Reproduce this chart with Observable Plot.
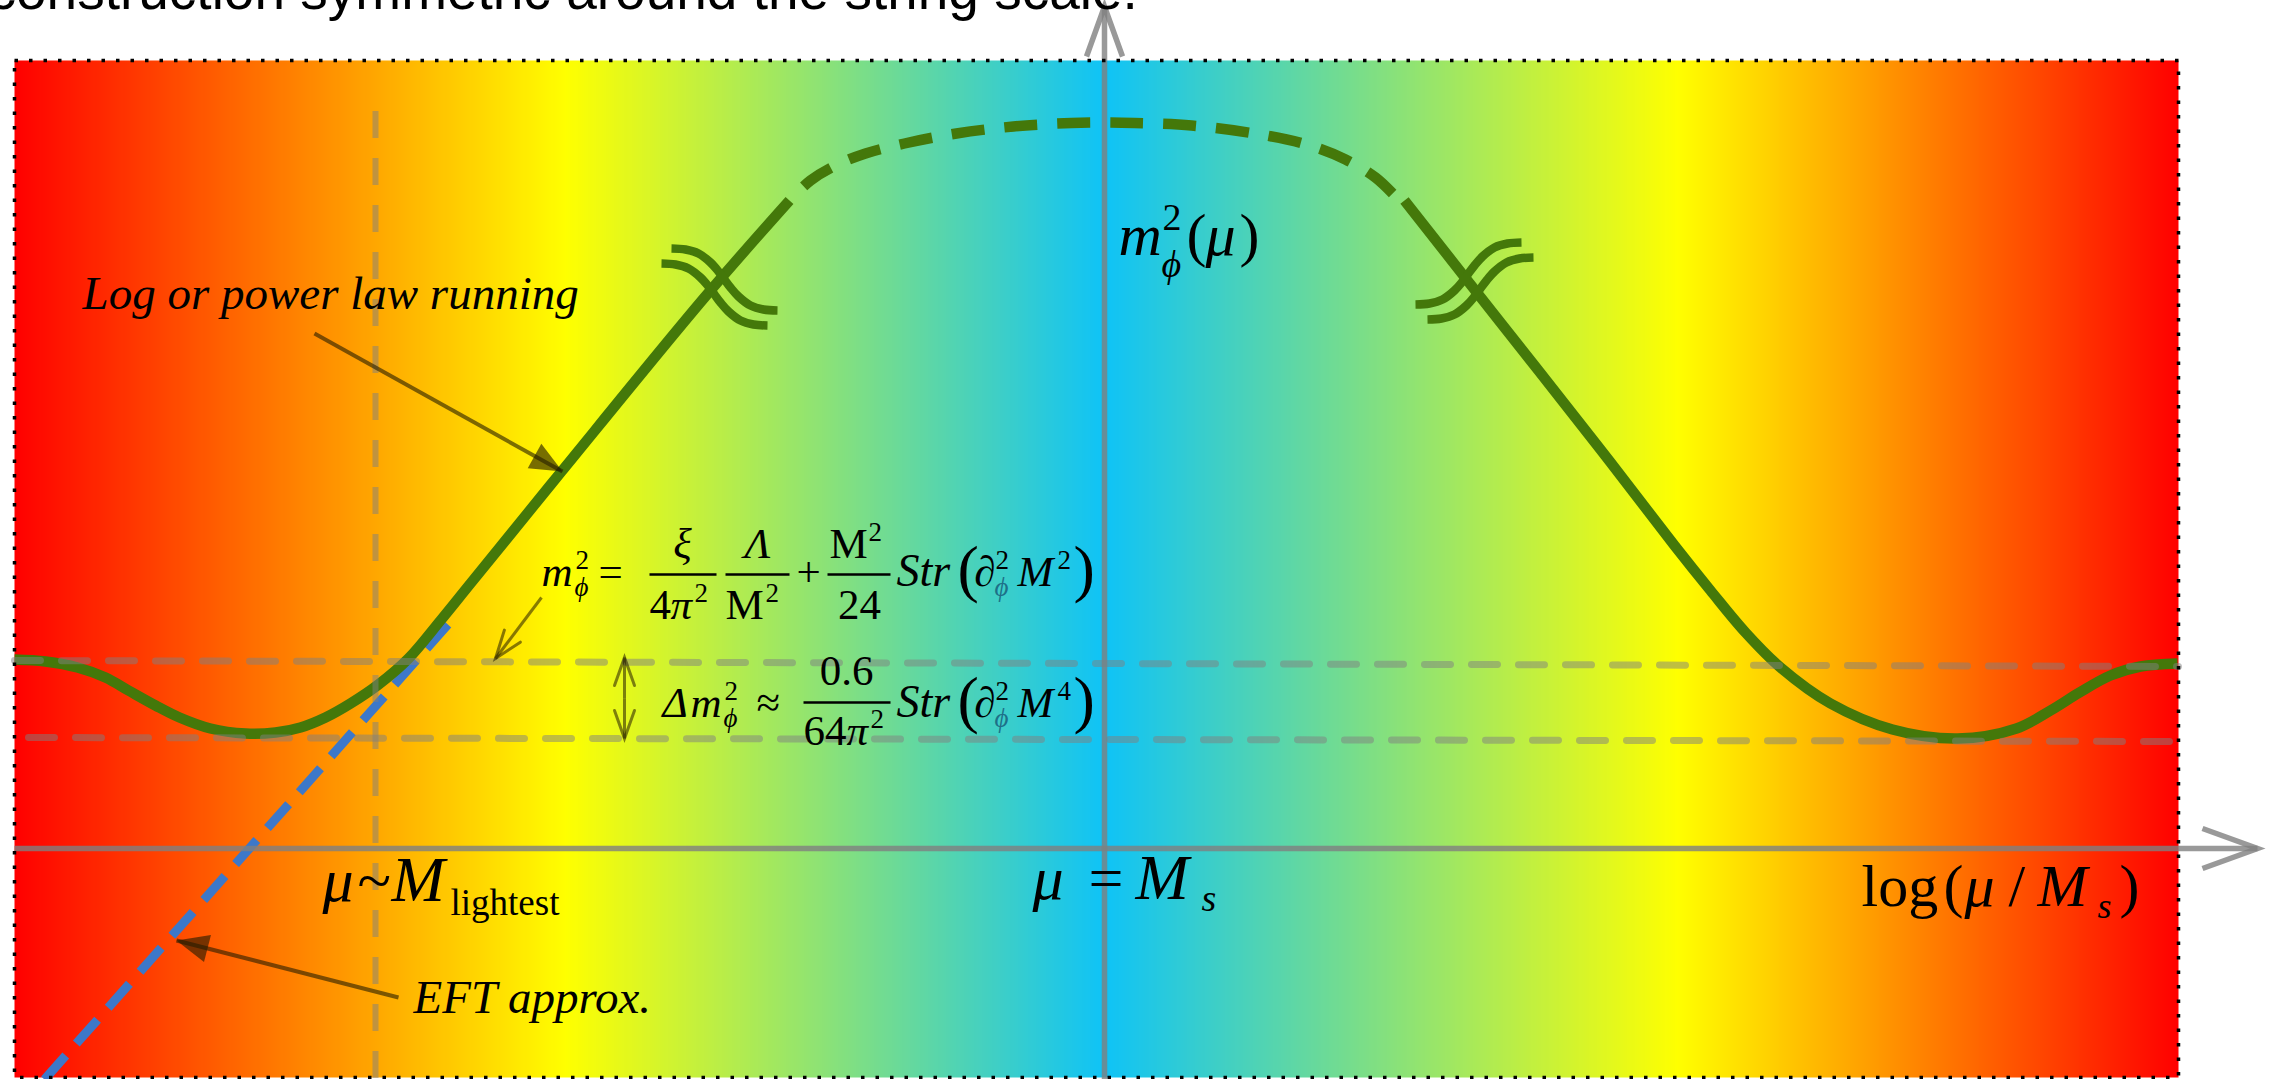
<!DOCTYPE html>
<html>
<head>
<meta charset="utf-8">
<script src="https://cdn.jsdelivr.net/npm/d3@7"></script>
<script src="https://cdn.jsdelivr.net/npm/@observablehq/plot@0.6"></script>
<style>
  html, body { margin: 0; padding: 0; background: #fff; overflow: hidden; }
</style>
</head>
<body>
<div id="chart"></div>
<script>
// ---------------------------------------------------------------------------
// Scalar mass running m_ϕ²(μ) against log(μ/M_s): symmetric about the string scale
// ---------------------------------------------------------------------------

// Horizontal colour ramp across log(μ/M_s)
const rampStops  = [-10.9, -5.39, 0, 5.74, 10.74];
const rampColors = ["#ff0000", "#ffff00", "#0fc3f7", "#ffff00", "#ff0000"];

// Low-energy branch (solid): plateau, dip at μ ~ M_lightest, then log/power-law rise
const lowX = [-10.90, -10.59, -10.27, -9.99, -9.76, -9.49, -9.25, -8.94, -8.59, -8.29, -8.04, -7.79, -7.54, -7.26, -6.96, -6.64, -6.34, -5.43, -4.00, -3.15];
const lowY = [  1.89,   1.87,   1.81,  1.71,  1.58,  1.43,  1.31,  1.20,  1.15,  1.16,  1.21,  1.31,  1.45,  1.64,  1.90,  2.28,  2.65,  3.77,  5.51,  6.48];

// Cap around μ = M_s (dashed)
const capX = [-3.15, -2.94, -2.69, -2.39, -2.00, -1.48, -0.91, -0.33, 0.00, 0.30, 0.87, 1.50, 2.02, 2.41, 2.71, 2.92];
const capY = [ 6.48,  6.68,  6.83,  6.95,  7.05,  7.15,  7.22, 7.255, 7.26, 7.255, 7.23, 7.15, 7.04, 6.89, 6.71, 6.51];

// Mirror branch above the string scale (solid)
const highX = [3.00, 3.96, 4.96, 5.70, 6.06, 6.41, 6.76, 7.26, 7.88, 8.53, 9.12, 9.46, 9.75, 10.06, 10.36, 10.73];
const highY = [6.48, 5.26, 3.99, 3.03, 2.58, 2.16, 1.81, 1.45, 1.19, 1.10, 1.20, 1.38, 1.56, 1.73, 1.82, 1.85];

// EFT approximation: straight running continued below M_lightest
const eftX = [-10.60, -6.53];
const eftY = [-2.31, 2.28];

// Reference levels: plateau value and minimum of m_ϕ²
const levelUpperX = [-10.90, 10.74], levelUpperY = [1.88, 1.82];
const levelLowerX = [-10.76, 10.74], levelLowerY = [1.11, 1.07];

// μ ~ M_lightest marker
const lightestX = -7.29;
const lightestY = [7.37, -2.31];

// Axis-break glyph (two stacked S strokes), offsets from each break centre
const breakDX = [-0.53, -0.39, -0.26, -0.14, -0.06, 0, 0.06, 0.14, 0.26, 0.39, 0.53];
const breakDY = [ 0.31,  0.30,  0.26,  0.17,  0.08, 0, -0.08, -0.17, -0.26, -0.30, -0.31];
const breakCentres = [
  {id: "lowA",  x: -3.80, y: 5.69, flip: 1},
  {id: "lowB",  x: -3.90, y: 5.54, flip: 1},
  {id: "highA", x:  3.64, y: 5.75, flip: -1},
  {id: "highB", x:  3.76, y: 5.60, flip: -1}
];

// Pointers from the annotations
const pointers = [
  {id: "running", x1: -7.90, y1:  5.15, x2: -5.42, y2:  3.77, head: "solid"},
  {id: "eft",     x1: -7.06, y1: -1.49, x2: -9.28, y2: -0.92, head: "solid"},
  {id: "mass",    x1: -5.63, y1:  2.51, x2: -6.09, y2:  1.90, head: "open"},
  {id: "spreadU", x1: -4.80, y1:  1.50, x2: -4.80, y2:  1.91, head: "open"},
  {id: "spreadD", x1: -4.80, y1:  1.50, x2: -4.80, y2:  1.10, head: "open"}
];

// Axes (with arrowheads at their far ends)
const axes = [
  {id: "scale", x1: -10.90, y1: 0, x2: 11.53, y2: 0},
  {id: "mass",  x1: 0, y1: -2.31, x2: 0, y2: 8.42}
];

// Text
const heading = "construction symmetric around the string scale.";
const captions = [
  {text: "Log or power law running", x: -10.22, y: 5.40},
  {text: "EFT approx.", x: -6.91, y: -1.64}
];

// Typeset pieces (dx, dy in px from the anchor baseline)
const runningAnchor = {x: 0.14, y: 5.94};
const runningLabel = [
  {t: "m", dx: 0, it: 1},
  {t: "2", dx: 44, dy: -25, s: 38},
  {t: "ϕ", dx: 43, dy: 22, s: 38, it: 1},
  {t: "(", dx: 68},
  {t: "μ", dx: 87, it: 1},
  {t: ")", dx: 121}
];

const lightestAnchor = {x: -7.82, y: -0.52};
const lightestLabel = [
  {t: "μ", dx: 0, it: 1, s: 62},
  {t: "~", dx: 35, s: 62},
  {t: "M", dx: 69, it: 1, s: 64},
  {t: "lightest", dx: 128, dy: 14, s: 37}
];

const stringAnchor = {x: -0.72, y: -0.50};
const stringLabel = [
  {t: "μ", dx: 0, it: 1},
  {t: "=", dx: 56},
  {t: "M", dx: 103, it: 1, s: 64},
  {t: "s", dx: 169, dy: 12, s: 38, it: 1}
];

const axisAnchor = {x: 7.57, y: -0.57};
const axisLabel = [
  {t: "log", dx: 0},
  {t: "(", dx: 82},
  {t: "μ", dx: 103, it: 1},
  {t: "/", dx: 147},
  {t: "M", dx: 176, it: 1},
  {t: "s", dx: 236, dy: 12, s: 36, it: 1},
  {t: ")", dx: 258}
];

const TEAL = "#1d7088";
// Str(∂²_ϕ M^n) block, placed at a given offset
function superTrace(at, power) {
  return [
    {t: "Str", dx: at, it: 1, s: 46},
    {t: "(", dx: at + 61, dy: 4, s: 64},
    {t: "∂", dx: at + 78},
    {t: "2", dx: at + 99, dy: -17, s: 27},
    {t: "ϕ", dx: at + 98, dy: 10, s: 27, it: 1, c: TEAL},
    {t: "M", dx: at + 121, it: 1},
    {t: power, dx: at + 161, dy: -17, s: 27},
    {t: ")", dx: at + 177, dy: 4, s: 64}
  ];
}

const massAnchor = {x: -5.63, y: 2.63};
const massFormula = [
  {t: "m", dx: 0, it: 1},
  {t: "2", dx: 34, dy: -17, s: 27},
  {t: "ϕ", dx: 33, dy: 10, s: 27, it: 1},
  {t: "=", dx: 57},
  {t: "ξ", dx: 141, dy: -28, it: 1, mid: 1},
  {t: "4", dx: 108, dy: 33},
  {t: "π", dx: 129, dy: 33, it: 1},
  {t: "2", dx: 153, dy: 16, s: 27},
  {t: "Λ", dx: 216, dy: -28, it: 1, mid: 1},
  {t: "M", dx: 184, dy: 33},
  {t: "2", dx: 224, dy: 16, s: 27},
  {t: "+", dx: 267, mid: 1},
  {t: "M", dx: 288, dy: -28},
  {t: "2", dx: 327, dy: -45, s: 27},
  {t: "24", dx: 318, dy: 33, mid: 1},
  ...superTrace(355, "2")
];
const massBars = [{dx: 108, w: 67, dy: -11}, {dx: 184, w: 64, dy: -11}, {dx: 286, w: 63, dy: -11}];

const spreadAnchor = {x: -4.42, y: 1.32};
const spreadFormula = [
  {t: "Δ", dx: 0, it: 1},
  {t: "m", dx: 28, it: 1},
  {t: "2", dx: 62, dy: -17, s: 27},
  {t: "ϕ", dx: 61, dy: 10, s: 27, it: 1},
  {t: "≈", dx: 94},
  {t: "0.6", dx: 184, dy: -32, mid: 1},
  {t: "64", dx: 141, dy: 28},
  {t: "π", dx: 184, dy: 28, it: 1},
  {t: "2", dx: 208, dy: 11, s: 27},
  ...superTrace(234, "4")
];
const spreadBars = [{dx: 141, w: 87, dy: -14}];

// ---------------------------------------------------------------------------
const W = 2277, H = 1079;
const M = {marginLeft: 14, marginRight: 99, marginTop: 60, marginBottom: 2};
const xDomain = [-10.9, 10.74], yDomain = [-2.29, 7.88];
const pxX = (W - M.marginLeft - M.marginRight) / (xDomain[1] - xDomain[0]);
const pxY = (H - M.marginTop - M.marginBottom) / (yDomain[1] - yDomain[0]);
// clockwise angle from "up" on screen for a segment given in data units
const bearing = d => Math.atan2((d.x2 - d.x1) * pxX, (d.y2 - d.y1) * pxY) * 180 / Math.PI;

const SERIF = "'Liberation Serif', 'Times New Roman', serif";
const SANS = "'Liberation Sans', Arial, sans-serif";
const GREEN = "#44780a";
const BLUE = "#3d78c9";
const INK = "#241c00";
const AXIS = "#808080";

const pts = (xs, ys) => xs.map((x, i) => ({x, y: ys[i]}));

// vector shapes
const openHead  = {draw(c, l, r) { c.moveTo(-r, 0); c.lineTo(0, -l); c.lineTo(r, 0); }};
const solidHead = {draw(c, l, r) { c.moveTo(-r, 0); c.lineTo(0, -l); c.lineTo(r, 0); c.closePath(); }};
const stem      = {draw(c, l) { c.moveTo(0, 0); c.lineTo(0, -l); }};

function typeset(anchor, pieces, base = 40) {
  return pieces.map(p => Plot.text([anchor], {
    x: "x", y: "y", text: () => p.t,
    dx: p.dx, dy: p.dy || 0,
    fontSize: p.s || base,
    fontStyle: p.it ? "italic" : "normal",
    fontFamily: SERIF,
    textAnchor: p.mid ? "middle" : "start",
    lineAnchor: "bottom",
    fill: p.c || "black"
  }));
}
function fractionBars(anchor, list) {
  return list.map(b => Plot.vector([anchor], {
    x: "x", y: "y", dx: b.dx, dy: b.dy, length: b.w, rotate: 90, anchor: "start",
    shape: stem, stroke: "black", strokeWidth: 2.4, strokeLinecap: "butt"
  }));
}

const breakPts = breakCentres.flatMap(b =>
  breakDX.map((d, i) => ({id: b.id, x: b.x + b.flip * d, y: b.y + breakDY[i]})));

const chart = Plot.plot({
  width: W, height: H, ...M,
  style: {background: "white", overflow: "visible"},
  x: {domain: xDomain, axis: null},
  y: {domain: yDomain, axis: null},
  color: {type: "linear", domain: rampStops, range: rampColors, interpolate: "rgb"},
  marks: [
    // coloured background
    Plot.raster({x1: xDomain[0], x2: xDomain[1], y1: yDomain[0], y2: yDomain[1],
      width: 1082, height: 2, fill: (x) => x, imageRendering: "auto"}),

    // EFT straight-line running
    Plot.line(pts(eftX, eftY), {x: "x", y: "y", stroke: BLUE, strokeWidth: 9,
      strokeDasharray: "32 16", strokeLinecap: "butt"}),

    // m_ϕ²(μ)
    Plot.line(pts(lowX, lowY), {x: "x", y: "y", curve: "catmull-rom", stroke: GREEN, strokeWidth: 10.5, strokeLinecap: "butt"}),
    Plot.line(pts(capX, capY), {x: "x", y: "y", curve: "catmull-rom", stroke: GREEN, strokeWidth: 10.5,
      strokeDasharray: "33 20", strokeDashoffset: 33, strokeLinecap: "butt"}),
    Plot.line(pts(highX, highY), {x: "x", y: "y", curve: "catmull-rom", stroke: GREEN, strokeWidth: 10.5, strokeLinecap: "butt"}),
    Plot.line(breakPts, {x: "x", y: "y", z: "id", curve: "catmull-rom", stroke: GREEN, strokeWidth: 8.5, strokeLinecap: "butt"}),

    // reference levels and μ ~ M_lightest
    Plot.line(pts(levelUpperX, levelUpperY), {x: "x", y: "y", stroke: AXIS, strokeOpacity: 0.5, strokeWidth: 7, strokeDasharray: "26 21"}),
    Plot.line(pts(levelLowerX, levelLowerY), {x: "x", y: "y", stroke: AXIS, strokeOpacity: 0.5, strokeWidth: 7, strokeDasharray: "26 21"}),
    Plot.ruleX([lightestX], {y1: lightestY[0], y2: lightestY[1], stroke: AXIS, strokeOpacity: 0.5, strokeWidth: 6, strokeDasharray: "27 20"}),

    // axes
    Plot.link(axes, {x1: "x1", y1: "y1", x2: "x2", y2: "y2", stroke: AXIS, strokeOpacity: 0.8, strokeWidth: 5.5}),
    Plot.vector(axes.filter(a => a.id === "scale"), {x: "x2", y: "y2", rotate: bearing, length: 55, r: 20, anchor: "end",
      shape: openHead, stroke: AXIS, strokeOpacity: 0.8, strokeWidth: 5.5, strokeLinejoin: "miter", strokeLinecap: "butt"}),
    Plot.vector(axes.filter(a => a.id === "mass"), {x: "x2", y: "y2", rotate: bearing, length: 50, r: 18, anchor: "end",
      shape: openHead, stroke: AXIS, strokeOpacity: 0.8, strokeWidth: 5.5, strokeLinejoin: "miter", strokeLinecap: "butt"}),

    // annotation pointers
    Plot.link(pointers.filter(p => p.head === "solid"), {x1: "x1", y1: "y1", x2: "x2", y2: "y2", stroke: INK, strokeOpacity: 0.6, strokeWidth: 4}),
    Plot.vector(pointers.filter(p => p.head === "solid"), {x: "x2", y: "y2", rotate: bearing, length: 32, r: 14, anchor: "end",
      shape: solidHead, fill: INK, fillOpacity: 0.62, stroke: "none"}),
    Plot.link(pointers.filter(p => p.head === "open"), {x1: "x1", y1: "y1", x2: "x2", y2: "y2", stroke: INK, strokeOpacity: 0.55, strokeWidth: 3}),
    Plot.vector(pointers.filter(p => p.head === "open"), {x: "x2", y: "y2", rotate: bearing, length: 28, r: 10, anchor: "end",
      shape: openHead, stroke: INK, strokeOpacity: 0.55, strokeWidth: 3, strokeLinejoin: "miter"}),

    // labels
    Plot.text(captions, {x: "x", y: "y", text: "text", fontSize: 47, fontStyle: "italic", fontFamily: SERIF,
      textAnchor: "start", lineAnchor: "bottom", fill: "black"}),
    ...typeset(runningAnchor, runningLabel, 60),
    ...typeset(lightestAnchor, lightestLabel, 60),
    ...typeset(stringAnchor, stringLabel, 62),
    ...typeset(axisAnchor, axisLabel, 60),
    ...typeset(massAnchor, massFormula, 43),
    ...fractionBars(massAnchor, massBars),
    ...typeset(spreadAnchor, spreadFormula, 43),
    ...fractionBars(spreadAnchor, spreadBars),

    // running heading above the panel
    Plot.text([heading], {frameAnchor: "top-left", text: d => d, dx: -26, dy: -52, fontSize: 55,
      fontFamily: SANS, textAnchor: "start", lineAnchor: "bottom", fill: "black"}),

    // dotted panel border
    Plot.frame({stroke: "black", strokeWidth: 3.5, strokeDasharray: "3.5 11"})
  ]
});

document.getElementById("chart").append(chart);
</script>
</body>
</html>
